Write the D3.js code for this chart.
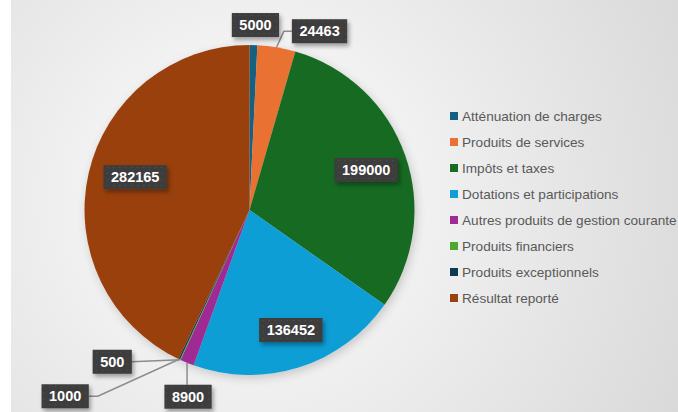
<!DOCTYPE html>
<html>
<head>
<meta charset="utf-8">
<script src="https://cdn.jsdelivr.net/npm/d3@7"></script>
<style>
  html, body { margin: 0; padding: 0; background: #fff; }
  svg { display: block; }
</style>
</head>
<body>
<div id="chart"></div>
<script>
const categories = [
  'Atténuation de charges',
  'Produits de services',
  'Impôts et taxes',
  'Dotations et participations',
  'Autres produits de gestion courante',
  'Produits financiers',
  'Produits exceptionnels',
  'Résultat reporté'
];
const values = [5000, 24463, 199000, 136452, 8900, 500, 1000, 282165];
const colors = ['#156082', '#e97132', '#196b24', '#0f9ed5', '#a02b93', '#4ea72e', '#0d3a4e', '#99410f'];

// label placement: 'in' = centroid at radius k; others are offsets from the slice's outer edge point
const labelLayout = [
  { mode: 'out', dx: 2, dy: -20, leader: null },
  { mode: 'out', dx: 43, dy: -16, leader: 'right' },
  { mode: 'in', k: 0.75, dx: 0, dy: 1 },
  { mode: 'in', k: 0.75, dx: 4, dy: 2 },
  { mode: 'out', dx: 1, dy: 34, leader: 'down' },
  { mode: 'out', dx: -68, dy: 2, leader: 'straight' },
  { mode: 'out', dx: -114, dy: 37, leader: 'left' },
  { mode: 'in', k: 0.71, dx: 0, dy: -7 }
];

const width = 678, height = 412;
const cx = 249.5, cy = 210, radius = 165;

const svg = d3.select('#chart').append('svg')
  .attr('width', width)
  .attr('height', height);

const defs = svg.append('defs');

const bg = defs.append('radialGradient')
  .attr('id', 'bg-grad')
  .attr('gradientUnits', 'userSpaceOnUse')
  .attr('cx', 250).attr('cy', 200).attr('r', 520);
bg.append('stop').attr('offset', '0%').attr('stop-color', '#ffffff');
bg.append('stop').attr('offset', '40%').attr('stop-color', '#eeeeee');
bg.append('stop').attr('offset', '100%').attr('stop-color', '#d6d6d6');

const pat = defs.append('pattern')
  .attr('id', 'dots')
  .attr('patternUnits', 'userSpaceOnUse')
  .attr('width', 6).attr('height', 6);
pat.append('rect').attr('width', 6).attr('height', 6).attr('fill', '#3d3d3d');
pat.append('rect').attr('x', 2).attr('y', 2).attr('width', 1).attr('height', 1).attr('fill', '#555');

const pieShadow = defs.append('filter').attr('id', 'pie-shadow')
  .attr('x', '-20%').attr('y', '-20%').attr('width', '140%').attr('height', '140%');
pieShadow.append('feDropShadow')
  .attr('dx', 2).attr('dy', 3).attr('stdDeviation', 5)
  .attr('flood-color', '#000').attr('flood-opacity', 0.18);

const boxShadow = defs.append('filter').attr('id', 'box-shadow')
  .attr('x', '-30%').attr('y', '-40%').attr('width', '160%').attr('height', '180%');
boxShadow.append('feDropShadow')
  .attr('dx', 2).attr('dy', 3).attr('stdDeviation', 2)
  .attr('flood-color', '#000').attr('flood-opacity', 0.35);

svg.append('rect')
  .attr('x', 11).attr('y', 0)
  .attr('width', width - 11).attr('height', height)
  .attr('fill', 'url(#bg-grad)');

const data = categories.map((c, i) => ({ name: c, value: values[i], color: colors[i], layout: labelLayout[i] }));

const pie = d3.pie().sort(null).value(d => d.value);
const arcs = pie(data);
const arc = d3.arc().innerRadius(0).outerRadius(radius);

const g = svg.append('g').attr('transform', `translate(${cx},${cy})`);

g.append('g')
  .attr('filter', 'url(#pie-shadow)')
  .selectAll('path')
  .data(arcs)
  .join('path')
  .attr('d', arc)
  .attr('fill', d => d.data.color);

// labels
const fmt = d3.format('d');
const labelG = g.append('g');

arcs.forEach(a => {
  const L = a.data.layout;
  const mid = (a.startAngle + a.endAngle) / 2;
  let x, y, ax, ay;
  if (L.mode === 'in') {
    const inner = d3.arc().innerRadius(0).outerRadius(radius * L.k * 2);
    [x, y] = inner.centroid(a);
    x += L.dx; y += L.dy;
  } else {
    ax = radius * Math.sin(mid);
    ay = -radius * Math.cos(mid);
    x = ax + L.dx; y = ay + L.dy;
  }

  const item = labelG.append('g').attr('transform', `translate(${x},${y})`);
  const txt = item.append('text')
    .attr('text-anchor', 'middle')
    .attr('dy', '0.36em')
    .attr('font-family', 'Liberation Sans, Arial, sans-serif')
    .attr('font-weight', 'bold')
    .attr('font-size', 14.5)
    .attr('fill', '#fff')
    .text(fmt(a.data.value));
  const bw = txt.node().getComputedTextLength() + 15;
  const bh = 24;
  item.insert('rect', 'text')
    .attr('x', -bw / 2).attr('y', -bh / 2)
    .attr('width', bw).attr('height', bh)
    .attr('fill', 'url(#dots)')
    .attr('filter', 'url(#box-shadow)');

  if (L.mode === 'out' && L.leader) {
    let pts;
    if (L.leader === 'right') {
      const edge = x - bw / 2;
      pts = [[ax, ay], [edge - 8, y], [edge, y]];
    } else if (L.leader === 'left') {
      const edge = x + bw / 2;
      pts = [[ax, ay], [edge + 9, y], [edge, y]];
    } else if (L.leader === 'straight') {
      pts = [[ax, ay], [x + bw / 2, y]];
    } else {
      pts = [[ax, ay], [ax, y - bh / 2]];
    }
    labelG.insert('path', ':first-child')
      .attr('d', d3.line()(pts))
      .attr('fill', 'none')
      .attr('stroke', '#8c8c8c')
      .attr('stroke-width', 1.5);
  }
});

// legend
const legend = svg.append('g').attr('transform', 'translate(450,116)');
const items = legend.selectAll('g')
  .data(data)
  .join('g')
  .attr('transform', (d, i) => `translate(0,${i * 26})`);
items.append('rect')
  .attr('x', 0).attr('y', -4)
  .attr('width', 8).attr('height', 8)
  .attr('fill', d => d.color);
items.append('text')
  .attr('x', 12).attr('y', 0)
  .attr('dy', '0.35em')
  .attr('font-family', 'Liberation Sans, Arial, sans-serif')
  .attr('font-size', 13.6)
  .attr('fill', '#595959')
  .text(d => d.name);
</script>
</body>
</html>
